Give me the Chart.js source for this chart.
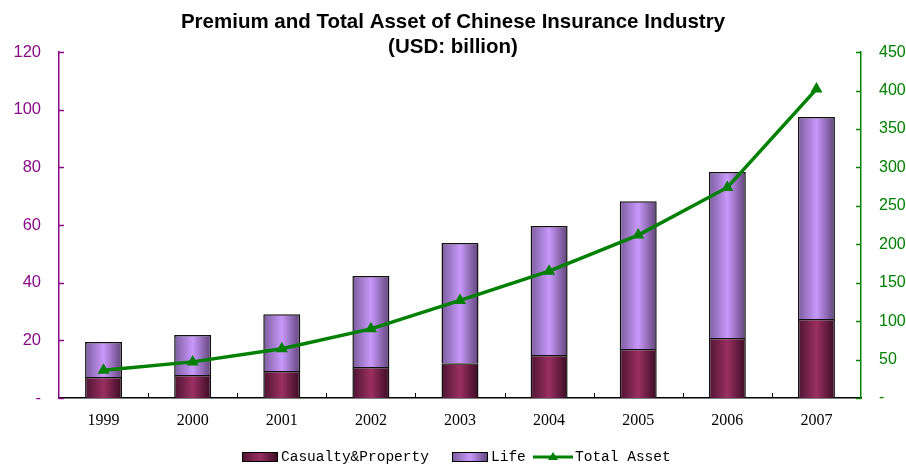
<!DOCTYPE html>
<html><head><meta charset="utf-8">
<script src="https://cdn.jsdelivr.net/npm/chart.js@4"></script>
<style>html,body{margin:0;padding:0;background:#fff}#wrap{width:906px;height:465px}</style>
</head><body><div id="wrap"><canvas id="c" width="906" height="465"></canvas></div>
<script>
const years = ['1999','2000','2001','2002','2003','2004','2005','2006','2007'];
const casualtyProperty = [7.3, 8.0, 9.4, 10.8, 12.1, 14.9, 17.0, 20.8, 27.4];
const life = [12.1, 13.9, 19.7, 31.5, 41.7, 44.8, 51.3, 57.6, 70.1];
const totalAsset = [36, 47, 64, 90, 127, 165, 212, 274, 402];
const titleLines = ['Premium and Total Asset of Chinese Insurance Industry', '(USD: billion)'];
const seriesNames = ['Casualty&Property', 'Life', 'Total Asset'];

const PURPLE = '#8a0a8a', GREEN = '#008000';
const BAR_PCT = 0.415;
const gradStops = {
  0: ['#4d1430', '#9a2f62', '#3a0c22'],
  1: ['#7a5d9c', '#c998fb', '#5f4478']
};

function barGradient(di) {
  return function (context) {
    const chart = context.chart;
    const xs = chart.scales.x, a = chart.chartArea;
    if (!xs || !a || context.dataIndex === undefined) return gradStops[di][1];
    const cx = xs.getPixelForValue(context.dataIndex);
    const w = (a.right - a.left) / years.length * BAR_PCT;
    const g = chart.ctx.createLinearGradient(cx - w / 2, 0, cx + w / 2, 0);
    const s = gradStops[di];
    g.addColorStop(0, s[0]); g.addColorStop(0.5, s[1]); g.addColorStop(1, s[2]);
    return g;
  };
}

const ticksPlugin = {
  id: 'innerTicks',
  afterDraw(chart) {
    const ctx = chart.ctx, a = chart.chartArea;
    ctx.save();
    ctx.lineWidth = 1.5;
    const y = chart.scales.y, y1 = chart.scales.y1, x = chart.scales.x;
    ctx.strokeStyle = PURPLE;
    y.ticks.forEach((t, i) => { const py = Math.round(y.getPixelForTick(i)) + 0.5; ctx.beginPath(); ctx.moveTo(a.left, py); ctx.lineTo(a.left + 5, py); ctx.stroke(); });
    ctx.strokeStyle = GREEN;
    y1.ticks.forEach((t, i) => { const py = Math.round(y1.getPixelForTick(i)) + 0.5; ctx.beginPath(); ctx.moveTo(a.right, py); ctx.lineTo(a.right - 5, py); ctx.stroke(); });
    ctx.strokeStyle = '#000';
    ctx.lineWidth = 1;
    const n = x.ticks.length, w = (a.right - a.left) / n;
    for (let i = 1; i < n; i++) { const px = Math.round(a.left + i * w) + 0.5; ctx.beginPath(); ctx.moveTo(px, a.bottom); ctx.lineTo(px, a.bottom - 5); ctx.stroke(); }
    ctx.restore();
  }
};

const legendPlugin = {
  id: 'customLegend',
  afterDraw(chart) {
    const ctx = chart.ctx;
    ctx.save();
    ctx.font = '14.5px "Liberation Mono", monospace';
    ctx.textBaseline = 'middle';
    ctx.fillStyle = '#000';
    const cy = 457;
    const items = [
      {type: 'bar', di: 0, x: 242},
      {type: 'bar', di: 1, x: 452},
      {type: 'line', x: 533}
    ];
    items.forEach((it, k) => {
      if (it.type === 'bar') {
        const g = ctx.createLinearGradient(it.x, 0, it.x + 36, 0);
        const s = gradStops[it.di];
        g.addColorStop(0, s[0]); g.addColorStop(0.5, s[1]); g.addColorStop(1, s[2]);
        ctx.fillStyle = g;
        ctx.fillRect(it.x, cy - 5, 36, 10);
        ctx.strokeStyle = '#000'; ctx.lineWidth = 1;
        ctx.strokeRect(it.x + 0.5, cy - 4.5, 35, 9);
        ctx.fillStyle = '#000';
        ctx.fillText(seriesNames[k], it.x + 39, cy);
      } else {
        ctx.strokeStyle = GREEN; ctx.lineWidth = 3;
        ctx.beginPath(); ctx.moveTo(it.x, cy); ctx.lineTo(it.x + 40, cy); ctx.stroke();
        ctx.fillStyle = GREEN;
        ctx.beginPath(); ctx.moveTo(it.x + 20, cy - 5); ctx.lineTo(it.x + 25, cy + 3); ctx.lineTo(it.x + 15, cy + 3); ctx.closePath(); ctx.fill();
        ctx.fillStyle = '#000';
        ctx.fillText(seriesNames[k], it.x + 42, cy);
      }
    });
    ctx.restore();
  }
};

new Chart(document.getElementById('c'), {
  data: {
    labels: years,
    datasets: [
      {type: 'bar', label: seriesNames[0], data: casualtyProperty, yAxisID: 'y', order: 2, backgroundColor: barGradient(0), borderColor: '#111', borderWidth: 1.5, barPercentage: BAR_PCT, categoryPercentage: 1},
      {type: 'bar', label: seriesNames[1], data: life, yAxisID: 'y', order: 2, backgroundColor: barGradient(1), borderColor: '#111', borderWidth: 1.5, barPercentage: BAR_PCT, categoryPercentage: 1},
      {type: 'line', label: seriesNames[2], data: totalAsset, yAxisID: 'y1', order: 0, borderColor: GREEN, backgroundColor: GREEN, borderWidth: 3.5, tension: 0, pointStyle: 'triangle', pointRadius: 7, pointBorderWidth: 0, pointBackgroundColor: GREEN}
    ]
  },
  options: {
    responsive: false,
    animation: false,
    layout: {padding: {top: 0, bottom: 27, left: 0, right: 0}},
    plugins: {
      legend: {display: false},
      tooltip: {enabled: false},
      title: {display: true, text: titleLines, color: '#000', font: {family: '"Liberation Sans", Arial, sans-serif', size: 20.5, weight: 'bold', lineHeight: 1.2}, padding: {top: 10, bottom: -7}}
    },
    scales: {
      x: {
        stacked: true,
        grid: {display: false, drawTicks: false},
        border: {display: true, color: '#000', width: 1.5},
        ticks: {color: '#000', font: {family: '"Liberation Serif", "Times New Roman", serif', size: 16}, padding: 13, maxRotation: 0},
        afterFit(s) { s.height = 40; }
      },
      y: {
        stacked: true, position: 'left', min: 0, max: 120,
        grid: {display: false, drawTicks: false},
        border: {display: true, color: PURPLE, width: 1.5},
        ticks: {stepSize: 20, color: PURPLE, padding: 18, font: {family: '"Liberation Sans", Arial, sans-serif', size: 16.5}, callback: v => v === 0 ? '-' : v},
        afterFit(s) { s.width = 59; }
      },
      y1: {
        position: 'right', min: 0, max: 450,
        grid: {display: false, drawTicks: false},
        border: {display: true, color: GREEN, width: 1.5},
        ticks: {stepSize: 50, color: GREEN, padding: 18, font: {family: '"Liberation Sans", Arial, sans-serif', size: 16}, callback: v => v === 0 ? '-' : v},
        afterFit(s) { s.width = 45; }
      }
    }
  },
  plugins: [ticksPlugin, legendPlugin]
});
</script></body></html>
